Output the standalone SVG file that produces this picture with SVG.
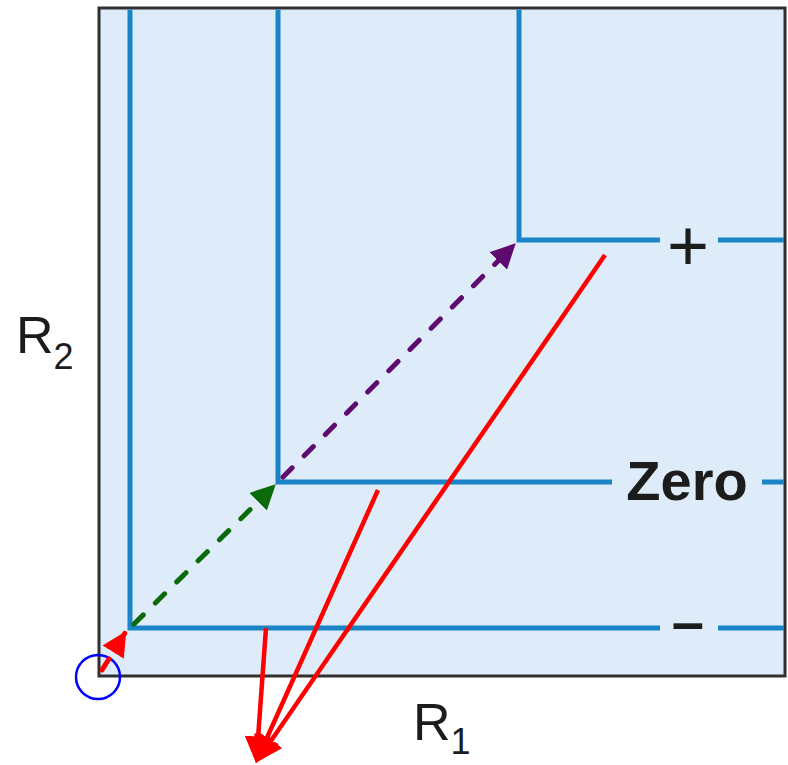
<svg xmlns="http://www.w3.org/2000/svg" width="788" height="765" viewBox="0 0 788 765">
<style>
.blue{stroke:#1a84c7;stroke-width:5;fill:none}
.lbl{font-family:"Liberation Sans",Arial,sans-serif;fill:#1c1c1c}
.red{stroke:#ff0000;stroke-width:4.5;fill:none}
.dash{stroke-width:5;fill:none;stroke-dasharray:13 17;stroke-linecap:round}
</style>
<defs>
<marker id="ahRed" markerWidth="6" markerHeight="6" refX="5" refY="3" orient="auto" markerUnits="strokeWidth"><path d="M0,0 L6,3 L0,6 Z" fill="#ff0000"/></marker>
<marker id="ahGreen" markerWidth="5" markerHeight="5" refX="4.5" refY="2.5" orient="auto" markerUnits="strokeWidth"><path d="M0,0 L5,2.5 L0,5 Z" fill="#0b6b0b"/></marker>
<marker id="ahPurple" markerWidth="5" markerHeight="5" refX="4.5" refY="2.5" orient="auto" markerUnits="strokeWidth"><path d="M0,0 L5,2.5 L0,5 Z" fill="#5e0a6e"/></marker>
<marker id="ahRedD" markerWidth="5" markerHeight="5" refX="4.5" refY="2.5" orient="auto" markerUnits="strokeWidth"><path d="M0,0 L5,2.5 L0,5 Z" fill="#ff0000"/></marker>
</defs>
<rect width="788" height="765" fill="#ffffff"/>
<g id="plot">
<rect x="99" y="8" width="686" height="668" fill="#deebf8" stroke="#303030" stroke-width="3"/>
</g>
<g id="curve-minus">
<path class="blue" d="M130,9.5 V628 H660 M718,628 H784"/>
<text class="lbl" x="688" y="642" font-size="58" font-weight="bold" text-anchor="middle">–</text>
</g>
<g id="curve-zero">
<path class="blue" d="M278,9.5 V482 H612 M762,482 H784"/>
<text class="lbl" x="687" y="500" font-size="56" font-weight="bold" text-anchor="middle">Zero</text>
</g>
<g id="curve-plus">
<path class="blue" d="M519,9.5 V240 H660 M718,240 H784"/>
<text class="lbl" x="688" y="270" font-size="72" text-anchor="middle">+</text>
</g>
<g id="axis-r2">
<text class="lbl" x="16" y="353" font-size="52">R<tspan font-size="36" dy="16">2</tspan></text>
</g>
<g id="axis-r1">
<text class="lbl" x="413" y="740" font-size="52">R<tspan font-size="36" dy="14">1</tspan></text>
</g>
<g id="origin">
<circle cx="98" cy="677" r="22" fill="none" stroke="#0000ff" stroke-width="2.5"/>
</g>
<g id="connectors">
<line class="dash" x1="102" y1="670" x2="125" y2="633" stroke="#ff0000" marker-end="url(#ahRedD)"/>
<line class="dash" x1="134" y1="624" x2="274" y2="486" stroke="#0b6b0b" marker-end="url(#ahGreen)"/>
<line class="dash" x1="283" y1="477" x2="514" y2="245" stroke="#5e0a6e" marker-end="url(#ahPurple)"/>
<line class="red" x1="266" y1="628" x2="256.5" y2="759" marker-end="url(#ahRed)"/>
<line class="red" x1="378" y1="490" x2="257.5" y2="759" marker-end="url(#ahRed)"/>
<line class="red" x1="605" y1="255" x2="258.5" y2="759" marker-end="url(#ahRed)"/>
</g>
</svg>
